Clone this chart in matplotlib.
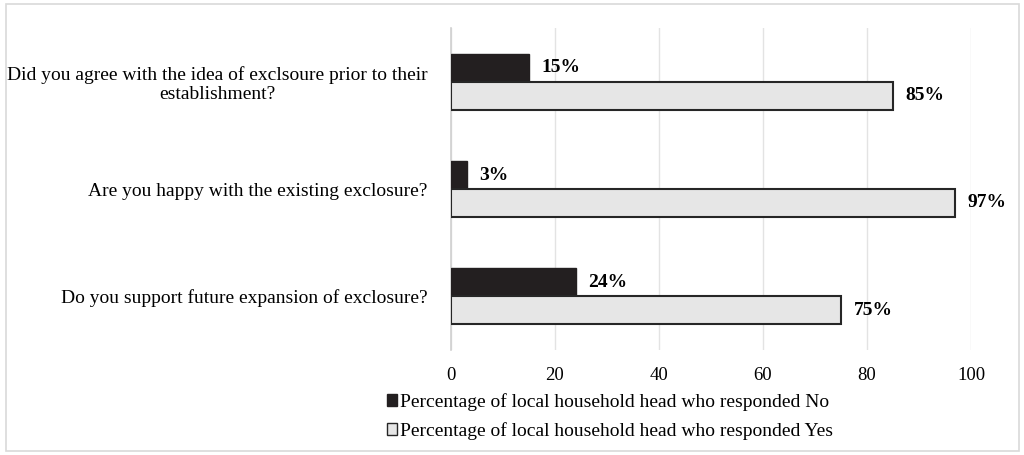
import numpy as np
import matplotlib
matplotlib.use("Agg")
import matplotlib.pyplot as plt
from matplotlib.patches import Rectangle, Patch

plt.rcParams['font.family'] = ['Liberation Serif', 'DejaVu Serif']

# data
questions = ['Did you agree with the idea of exclsoure prior to their\nestablishment?',
             'Are you happy with the existing exclosure?',
             'Do you support future expansion of exclosure?']
pct_no = [15, 3, 24]
pct_yes = [85, 97, 75]
series_names = ['Percentage of local household head who responded No',
                'Percentage of local household head who responded Yes']

fig = plt.figure(figsize=(10.24, 4.55), dpi=100)
ax = fig.add_axes([451 / 1024, 1 - 350 / 455, 520 / 1024, 322 / 455])

# outer frame of the chart area
fig.patches.append(Rectangle((6 / 1024, 4 / 455), 1 - 11 / 1024, 1 - 8 / 455,
                             transform=fig.transFigure, fill=False,
                             edgecolor='#d9d9d9', linewidth=1.2))

y = np.arange(len(questions))
h = 0.26
b_no = ax.barh(y - h / 2, pct_no, height=h, color='#231f20',
               edgecolor='#231f20', linewidth=1.0, zorder=3)
b_yes = ax.barh(y + h / 2, pct_yes, height=h, color='#e6e6e6',
                edgecolor='#262626', linewidth=1.5, zorder=3)

for bars, vals in ((b_no, pct_no), (b_yes, pct_yes)):
    for bar, v in zip(bars, vals):
        ax.text(bar.get_width() + 2.4, bar.get_y() + bar.get_height() / 2,
                '%d%%' % v, va='center', ha='left', fontsize=14,
                fontweight='bold')

ax.set_xlim(0, 100)
ax.set_ylim(2.5, -0.5)
ax.set_xticks(np.arange(0, 101, 20))
ax.set_yticks(y)
ax.set_yticklabels(questions, fontsize=14, linespacing=1.15,
                   multialignment='center')
ax.tick_params(axis='y', length=0, pad=17)
ax.tick_params(axis='x', length=0, labelsize=13.5, pad=12)
ax.grid(axis='x', color='#e3e3e3', linewidth=1.0, zorder=0)
for s in ('top', 'right', 'bottom'):
    ax.spines[s].set_visible(False)
ax.spines['left'].set_color('#d0d0d0')
ax.spines['left'].set_linewidth(1.2)

handles = [Patch(facecolor='#231f20', edgecolor='#231f20'),
           Patch(facecolor='#e6e6e6', edgecolor='#262626')]
fig.legend(handles, series_names, loc='upper left',
           bbox_to_anchor=(377 / 1024, 1 - 383 / 455), frameon=False,
           fontsize=14, handlelength=0.55, handleheight=0.55,
           handletextpad=0.15, labelspacing=0.6, borderpad=0)

fig.savefig('out.png', dpi=100)
